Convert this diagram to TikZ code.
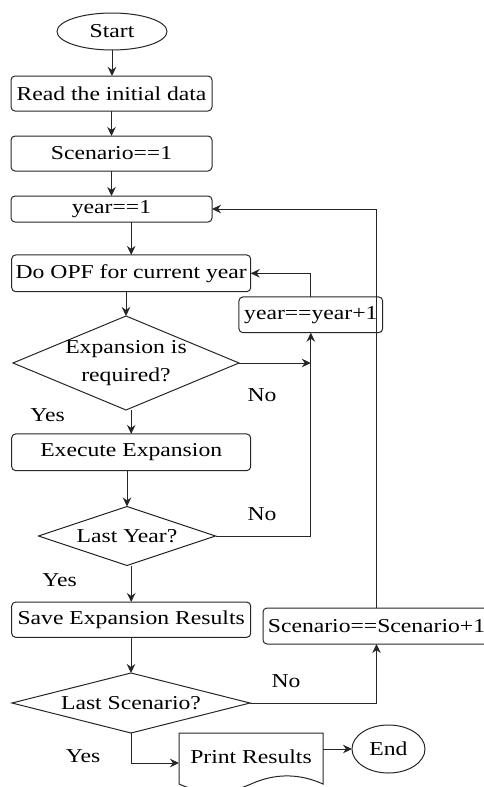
\documentclass[tikz,border=0pt]{standalone}
\usepackage{fontspec}
\setmainfont[FakeStretch=1.2]{Liberation Serif}
\usetikzlibrary{shapes.geometric,arrows.meta,calc}
\definecolor{ink}{HTML}{262626}
\begin{document}
\begin{tikzpicture}[x=1pt,y=-1pt,
  font=\fontsize{19.7}{28}\selectfont,
  every node/.style={inner sep=0pt,outer sep=0pt},
  line/.style={draw=ink,line width=1pt},
  flow/.style={line,-{Stealth[length=9pt,width=8.5pt]}},
  proc/.style={line,rounded corners=4pt,minimum width=#1,align=center},
  term/.style={line,ellipse},
  decision/.style={line,diamond,minimum width=#1},
  tag/.style={text=black}
]
\useasboundingbox (0,0) rectangle (484,787);

% terminals and process steps
\node[term,minimum width=110,minimum height=37] (start) at (112,31.5) {Start};
\node[proc=201,minimum height=35] (read)  at (111.5,93.5) {Read the initial data};
\node[proc=201,minimum height=35] (scen1) at (111.5,153.5) {Scenario==1};
\node[proc=201,minimum height=26] (year1) at (111.5,209) {year==1};
\node[proc=239,minimum height=36.7] (opf) at (131.2,273.3) {Do OPF for current year};
\node[proc=143.7,minimum height=35.7] (yearp) at (310.8,314.8) {year==year+1};
\node[decision=226,minimum height=94,label={[align=center]center:Expansion is\\required?}] (expq) at (126,363) {};
\node[proc=239,minimum height=36.7] (exec) at (131.2,452.3) {Execute Expansion};
\node[decision=177,minimum height=59,label={center:Last Year?}] (lastyr) at (127,536) {};
\node[proc=239,minimum height=35.3] (save) at (131.2,619.7) {Save Expansion Results};
\node[decision=238,minimum height=60,label={center:Last Scenario?}] (lastsc) at (131,703) {};
\node[proc=227,minimum height=36] (scenp) at (376.5,626) {Scenario==Scenario+1};
\node[minimum width=144,minimum height=48] (print) at (251,757) {Print Results};
\node[term,minimum width=73,minimum height=48] (end) at (388.5,749) {End};

% document outline of the output step
\draw[line,shift={(print.north west)}] (0,51) -- (0,0) -- (144,0) -- (144,51)
  .. controls (120,40.2) and (96,40.2) .. (72,51)
  .. controls (48,61.8) and (24,61.8) .. (0,51) -- cycle;

% main flow
\draw[flow] (start.south) -- (start.south |- read.north);
\draw[flow] (read.south) -- (scen1.north);
\draw[flow] (scen1.south) -- (year1.north);
\draw[flow] (year1.south -| opf.north) -- (opf.north);
\draw[flow] (opf.south -| expq.north) -- (expq.north);
\draw[flow] (exec.north |- expq.south) -- (exec.north);
\draw[flow] (exec.south -| lastyr.north) -- (lastyr.north);
\draw[flow] (save.north |- lastyr.south) -- (save.north);
\draw[flow] (save.south -| lastsc.north) -- (lastsc.north);
\draw[flow] (lastsc.south) |- ([yshift=-6pt]print.west);
\draw[flow] (print.east |- end.west) -- (end.west);

% loops
\draw[flow] (expq.east) -- (expq.east -| yearp.south);
\draw[flow] (lastyr.east) -| (yearp.south);
\draw[flow] (yearp.north) |- (opf.east);
\draw[flow] (lastsc.east) -| (scenp.south);
\draw[flow] (scenp.north) |- (year1.east);

% branch labels
\node[tag] (no1)  at (262,395) {No};
\node[tag] (yes1) at (47.5,415) {Yes};
\node[tag] (no2)  at (262,514) {No};
\node[tag] (yes2) at (59.5,580) {Yes};
\node[tag] (no3)  at (286,681) {No};
\node[tag] (yes3) at (83,756) {Yes};
\end{tikzpicture}
\end{document}
